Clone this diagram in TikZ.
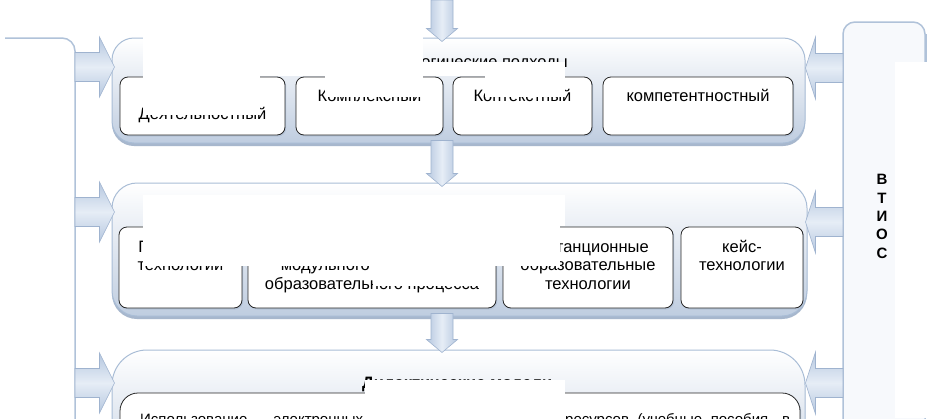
\documentclass[tikz,border=0pt]{standalone}
\usepackage{fontspec}
\setmainfont{Liberation Sans}
\usetikzlibrary{calc}
\definecolor{grpline}{HTML}{A9BDD6}
\definecolor{grpbot}{HTML}{BFCDE0}
\definecolor{shadowc}{HTML}{A7B7CD}
\definecolor{boxshadow}{HTML}{B4C3D7}
\definecolor{arrowA}{HTML}{B5C7DF}
\definecolor{arrowB}{HTML}{E6EDF6}
\definecolor{arrowline}{HTML}{9FB3CF}
\definecolor{panelfill}{HTML}{F7F9FC}
\definecolor{panelline}{HTML}{B0C2D9}
\tikzset{
  grp/.style={draw=grpline, line width=1pt, top color=white, bottom color=grpbot,
    inner sep=0pt, preaction={fill=shadowc, transform canvas={yshift=-3pt}}},
  innerbox/.style={draw=black!85, line width=0.8pt, fill=white, rounded corners=8pt,
    inner sep=0pt, preaction={fill=boxshadow, transform canvas={xshift=1.2pt,yshift=-1.5pt}}},
  txt/.style={font=\fontsize{16.5}{18.5}\selectfont, inner sep=0pt, text=black},
  vtxt/.style={font=\fontsize{15}{18}\selectfont\bfseries, inner sep=0pt, text=black},
  blockarr/.style={draw=arrowline, line width=0.6pt},
  maskbox/.style={fill=white, draw=none},
  panel/.style={draw=panelline, line width=1.5pt}
}
\newcommand\blockdown[2]{%
  \path[blockarr, left color=arrowA, right color=arrowA, middle color=arrowB]
    let \p1=(#1), \p2=(#2) in
    (\x1-11pt,\y1) -- (\x1+11pt,\y1) -- (\x1+11pt,\y2+13pt) -- (\x1+15.5pt,\y2+13pt)
    -- (\x1,\y2) -- (\x1-15.5pt,\y2+13pt) -- (\x1-11pt,\y2+13pt) -- cycle;}
\newcommand\blockright[2]{%
  \path[blockarr, top color=arrowA, bottom color=arrowA, middle color=arrowB]
    let \p1=(#1), \p2=(#2) in
    (\x1,\y1+14.5pt) -- (\x2-15pt,\y1+14.5pt) -- (\x2-15pt,\y1+30pt) -- (\x2,\y1)
    -- (\x2-15pt,\y1-30pt) -- (\x2-15pt,\y1-14.5pt) -- (\x1,\y1-14.5pt) -- cycle;}
\newcommand\blockleft[2]{%
  \path[blockarr, top color=arrowA, bottom color=arrowA, middle color=arrowB]
    let \p1=(#1), \p2=(#2) in
    (\x1,\y1+14.5pt) -- (\x2+10pt,\y1+14.5pt) -- (\x2+10pt,\y1+31pt) -- (\x2,\y1)
    -- (\x2+10pt,\y1-31pt) -- (\x2+10pt,\y1-14.5pt) -- (\x1,\y1-14.5pt) -- cycle;}
\begin{document}
\begin{tikzpicture}[x=1pt,y=-1pt]
\useasboundingbox (0,0) rectangle (929,418);
\clip (0,0) rectangle (929,418);
\fill[white] (0,0) rectangle (929,418);

% side panels
\draw[panel, fill=white, rounded corners=13pt] (5,38) -- (75,38) -- (75,440);
\draw[panel, fill=panelfill, rounded corners=12pt] (843,440) -- (843,22) -- (925,22) -- (925,440);
\draw[draw=panelline, line width=2.5pt] (926,34) -- (926,62);

% groups
\node[grp, rounded corners=22pt, minimum width=693pt, minimum height=105pt] (g1) at (458.5,90.5) {};
\node[grp, rounded corners=25pt, minimum width=695pt, minimum height=133pt] (g2) at (459.5,249.5) {};
\node[grp, rounded corners=35pt, minimum width=693pt, minimum height=140pt] (g3) at (458.5,420) {};

% boxes, group 1
\node[innerbox, minimum width=165pt, minimum height=58pt] (b11) at (202.5,106) {};
\node[innerbox, minimum width=147pt, minimum height=58pt] (b12) at (369.5,106) {};
\node[innerbox, minimum width=139pt, minimum height=58pt] (b13) at (522.5,106) {};
\node[innerbox, minimum width=190pt, minimum height=58pt] (b14) at (698,106) {};
% boxes, group 2
\node[innerbox, minimum width=123pt, minimum height=81pt] (b21) at (180.5,267.5) {};
\node[innerbox, minimum width=248pt, minimum height=81pt] (b22) at (372,267.5) {};
\node[innerbox, minimum width=170pt, minimum height=81pt] (b23) at (588,267.5) {};
\node[innerbox, minimum width=122pt, minimum height=81pt] (b24) at (742,267.5) {};
% box, group 3
\node[innerbox, rounded corners=18pt, minimum width=680pt, minimum height=100pt] (b31) at (460,443) {};

% texts, group 1
\node[txt, anchor=base east] (g1t) at (568,67) {Методологические подходы};
\node[txt, anchor=base] (t11) at (202.5,119) {Деятельностный};
\node[txt, anchor=base] (t12) at (369.5,101) {Комплексный};
\node[txt, anchor=base] (t13) at (522.5,101) {Контекстный};
\node[txt, anchor=base] (t14) at (698,101) {компетентностный};
% texts, group 2
\node[txt, anchor=base] (t21a) at (180.5,252) {Проектные};
\node[txt, anchor=base] (t21b) at (180.5,270.5) {технологии};
\node[txt, anchor=base] (t22b) at (372,270.5) {модульного построения};
\node[txt, anchor=base] (t22c) at (372,289) {образовательного процесса};
\node[txt, anchor=base] (t23a) at (588,252) {Дистанционные};
\node[txt, anchor=base] (t23b) at (588,270.5) {образовательные};
\node[txt, anchor=base] (t23c) at (588,289) {технологии};
\node[txt, anchor=base] (t24a) at (742,252) {кейс-};
\node[txt, anchor=base] (t24b) at (742,270.5) {технологии};
% texts, group 3
\node[txt, font=\fontsize{16.5}{18.5}\selectfont\bfseries, anchor=base west] (g3t) at (362,388) {Дидактические модели};
\node[txt, font=\fontsize{15}{18}\selectfont, anchor=base west] (t31a) at (140,424) {\makebox[223pt][s]{Использование электронных}};
\node[txt, font=\fontsize{15}{18}\selectfont, anchor=base west] (t31b) at (565,424) {\makebox[225pt][s]{ресурсов (учебные пособия, в}};

% vertical label
\foreach \L [count=\i] in {В,Т,И,О,С}
  \node[vtxt] (v\i) at (882,161.5+18.3*\i) {\L};

% connectors
\coordinate (D0) at (442,0);
\blockdown{D0}{$(g1.north)+(-16.5,4)$}
\blockdown{$(g1.south)+(-16.5,-3)$}{$(g2.north)+(-17.5,4)$}
\blockdown{$(g2.south)+(-17.5,-3)$}{$(g3.north)+(-16.5,3)$}

\coordinate (L1) at (75,67);
\coordinate (L2) at (75,212);
\coordinate (L3) at (75,383);
\blockright{L1}{$(g1.west|-L1)+(3,0)$}
\blockright{L2}{$(g2.west|-L2)+(3,0)$}
\blockright{L3}{$(g3.west|-L3)+(3,0)$}

\coordinate (R1) at (843,68);
\coordinate (R2) at (843,222);
\coordinate (R3) at (843,383);
\blockleft{R1}{g1.east|-R1}
\blockleft{R2}{$(g2.east|-R2)+(-2,0)$}
\blockleft{R3}{g3.east|-R3}

% masked regions
\fill[maskbox] (143,30) rectangle (423,76);
\fill[maskbox] (143,76) rectangle (260,114.5);
\fill[maskbox] (325,76) rectangle (423,96.5);
\fill[maskbox] (423,62) rectangle (565,76);
\fill[maskbox] (485,76) rectangle (565,96.5);
\fill[maskbox] (143,195) rectangle (565,226);
\fill[maskbox] (143,226) rectangle (560,266);
\fill[maskbox] (373,266) rectangle (480,286);
\fill[maskbox] (365,380) rectangle (565,418);
\fill[maskbox] (895,62) rectangle (929,418);
\end{tikzpicture}
\end{document}
